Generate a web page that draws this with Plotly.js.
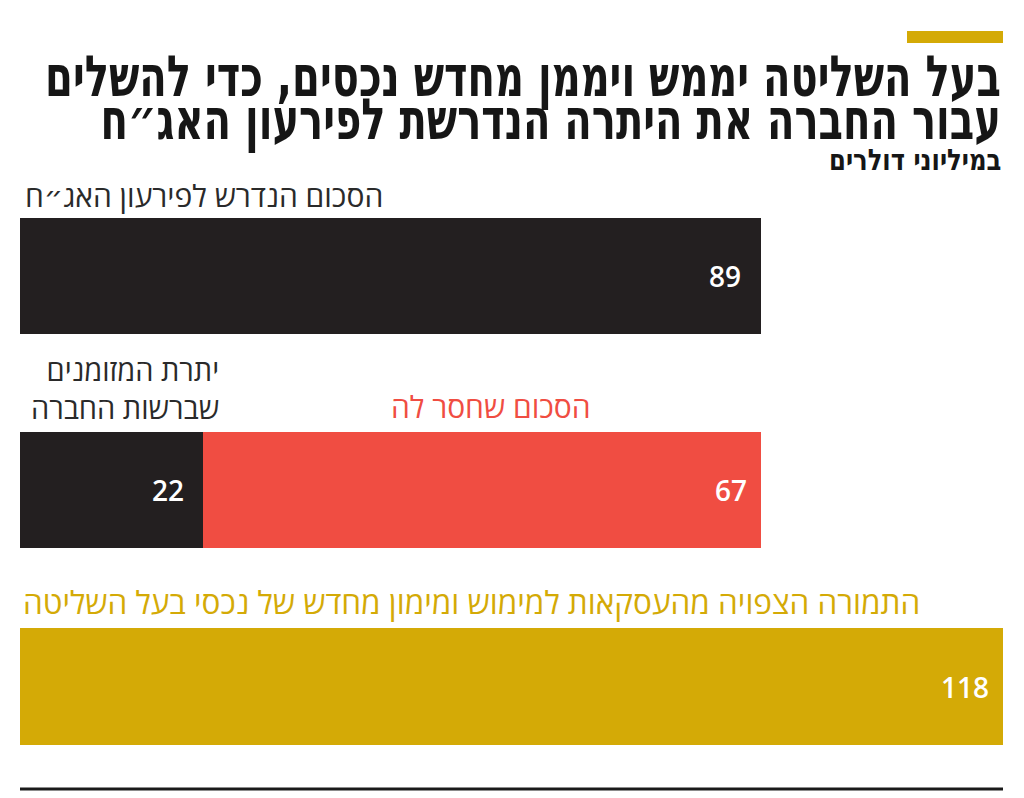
<!DOCTYPE html>
<html><head><meta charset="utf-8">
<script src="https://cdn.plot.ly/plotly-3.0.1.min.js"></script>
<style>html,body{margin:0;padding:0;background:#fff;}</style>
</head><body>
<div id="chart" style="width:1024px;height:798px;"></div>
<script>
// ---- data ----
const requiredLabel = ["הסכום הנדרש לפירעון האג״ח"];
const requiredValues = [89];
const cashLabel = "יתרת המזומנים<br>שברשות החברה";
const cashValues = [22];
const missingLabel = "הסכום שחסר לה";
const missingValues = [67];
const proceedsLabel = "התמורה הצפויה מהעסקאות למימוש ומימון מחדש של נכסי בעל השליטה";
const proceedsValues = [118];
const titleLines = ["בעל השליטה יממש ויממן מחדש נכסים, כדי להשלים", "עבור החברה את היתרה הנדרשת לפירעון האג״ח"];
const subtitle = "במיליוני דולרים";

const BLACK = "#231f20", RED = "#f04d42", GOLD = "#d4aa06";
const W = 1024, H = 798;
const py = px => 1 - px / H;           // pixel row -> paper y
const pxX = px => (px - 20) / 983;     // pixel col -> paper x
const FONT = "Open Sans, DejaVu Sans, sans-serif";
const TFONT = "DejaVu Sans Condensed, DejaVu Sans, sans-serif";

const xr = [0, proceedsValues[0]];
function bar(vals, color, xa, ya) {
  return {type: "bar", orientation: "h", x: vals, y: [0], width: 1,
    marker: {color: color, line: {width: 0}}, xaxis: xa, yaxis: ya,
    hoverinfo: "skip", showlegend: false};
}
const traces = [
  bar(requiredValues, BLACK, "x", "y"),
  bar(cashValues, BLACK, "x2", "y2"),
  bar(missingValues, RED, "x2", "y2"),
  bar(proceedsValues, GOLD, "x3", "y3")
];

const axX = d => ({range: xr, domain: [0, 1], visible: false, fixedrange: true, anchor: d});
const axY = (d0, d1, xa) => ({range: [-0.5, 0.5], domain: [py(d1), py(d0)], visible: false, fixedrange: true, anchor: xa});

const valFont = {family: FONT, size: 28, color: "#ffffff", weight: 600};
const LBL = 30;
const annotations = [
  {text: "<b>" + titleLines[0] + "<br>" + titleLines[1] + "</b>", x: 1, y: py(97), xref: "paper", yref: "paper", xanchor: "right", yanchor: "middle", align: "right", showarrow: false, font: {family: TFONT, size: 44.5, color: "#161616"}},
  {text: "<b>" + subtitle + "</b>", x: 1, y: py(157), xref: "paper", yref: "paper", xanchor: "right", yanchor: "middle", showarrow: false, font: {family: TFONT, size: 27, color: "#161616"}},
  {text: requiredLabel[0], x: pxX(23), y: py(195), xref: "paper", yref: "paper", xanchor: "left", yanchor: "middle", showarrow: false, font: {family: FONT, size: LBL, color: "#2a2a2a"}},
  {text: cashLabel, x: pxX(221), y: py(388), xref: "paper", yref: "paper", xanchor: "right", yanchor: "middle", align: "right", showarrow: false, font: {family: FONT, size: 29, color: "#2a2a2a"}},
  {text: missingLabel, x: pxX(593), y: py(406), xref: "paper", yref: "paper", xanchor: "right", yanchor: "middle", showarrow: false, font: {family: FONT, size: LBL, color: RED}},
  {text: proceedsLabel, x: pxX(21), y: py(601), xref: "paper", yref: "paper", xanchor: "left", yanchor: "middle", showarrow: false, font: {family: FONT, size: 31.5, color: GOLD}},
  {x: requiredValues[0], y: 0, xref: "x", yref: "y", text: String(requiredValues[0]), showarrow: false, xanchor: "right", yanchor: "middle", xshift: -18, font: valFont},
  {x: cashValues[0], y: 0, xref: "x2", yref: "y2", text: String(cashValues[0]), showarrow: false, xanchor: "right", yanchor: "middle", xshift: -17, font: valFont},
  {x: cashValues[0] + missingValues[0], y: 0, xref: "x2", yref: "y2", text: String(missingValues[0]), showarrow: false, xanchor: "right", yanchor: "middle", xshift: -12, font: valFont},
  {x: proceedsValues[0], y: 0, xref: "x3", yref: "y3", text: String(proceedsValues[0]), showarrow: false, xanchor: "right", yanchor: "middle", xshift: -12, font: valFont}
];

const shapes = [
  {type: "rect", xref: "paper", yref: "paper", x0: pxX(907), x1: 1, y0: py(43), y1: py(31), fillcolor: GOLD, line: {width: 0}},
  {type: "line", xref: "paper", yref: "paper", x0: 0, x1: 1, y0: py(789), y1: py(789), line: {color: "#1a1a1a", width: 3}}
];

const layout = {
  width: W, height: H,
  margin: {l: 20, r: 21, t: 0, b: 0, pad: 0},
  paper_bgcolor: "#ffffff", plot_bgcolor: "rgba(0,0,0,0)",
  barmode: "stack", bargap: 0, showlegend: false,
  xaxis: axX("y"), yaxis: axY(218, 334, "x"),
  xaxis2: axX("y2"), yaxis2: axY(432, 548, "x2"),
  xaxis3: axX("y3"), yaxis3: axY(628, 745, "x3"),
  annotations: annotations, shapes: shapes
};

// tighten line spacing / stretch heading text vertically (typographic adjustment only)
function adjustText(idx, spacing, sy, targetMidY) {
  const g = document.querySelector('.annotation[data-index="' + idx + '"]');
  if (!g) return;
  const t = g.querySelector('text.annotation-text');
  if (!t) return;
  const fs = parseFloat(getComputedStyle(t).fontSize) || 16;
  const lines = t.querySelectorAll('tspan.line');
  if (lines.length > 1 && spacing) {
    const a0 = lines[0].getAttribute('dy') || '0';
    const d0 = a0.indexOf('em') >= 0 ? parseFloat(a0) * fs : (parseFloat(a0) || 0);
    lines.forEach((l, i) => l.setAttribute('dy', (d0 + i * spacing) + 'px'));
  }
  const bb = t.getBBox();
  const cy = bb.y + bb.height / 2;
  const base = 'translate(0,' + cy + ') scale(1,' + sy + ') translate(0,' + (-cy) + ')';
  t.setAttribute('transform', base);
  const r = t.getBoundingClientRect();
  const cur = r.top + r.height / 2;
  t.setAttribute('transform', 'translate(0,' + (targetMidY - cur) + ') ' + base);
}

Plotly.newPlot("chart", traces, layout, {displayModeBar: false, staticPlot: true}).then(() => {
  adjustText(0, 33, 1.28, 98);
  adjustText(1, 0, 1.1, 160);
});
</script>
</body></html>
